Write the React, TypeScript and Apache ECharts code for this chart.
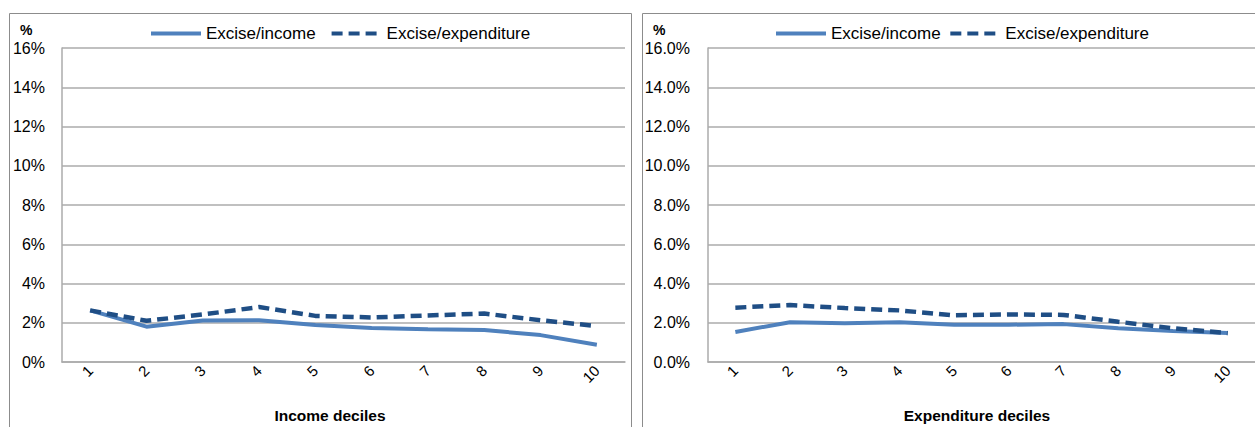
import React, { useEffect, useRef } from "react";
import * as echarts from "echarts";

const deciles = ["1", "2", "3", "4", "5", "6", "7", "8", "9", "10"];
const incomeExciseIncome = [2.63, 1.8, 2.12, 2.13, 1.88, 1.73, 1.67, 1.63, 1.37, 0.88];
const incomeExciseExpenditure = [2.63, 2.1, 2.42, 2.8, 2.35, 2.27, 2.37, 2.47, 2.13, 1.83];
const expExciseIncome = [1.53, 2.03, 1.98, 2.03, 1.9, 1.9, 1.93, 1.72, 1.58, 1.48];
const expExciseExpenditure = [2.77, 2.9, 2.75, 2.63, 2.38, 2.42, 2.4, 2.05, 1.72, 1.47];
const seriesNames = ["Excise/income", "Excise/expenditure"];
const axisTitles = ["Income deciles", "Expenditure deciles"];

const FONT = "'Liberation Sans', Arial, sans-serif";
const SOLID = "#4F81BD";
const DASH = "#1F4E85";
const GRID = "#ababab";

export default function App() {
  const ref = useRef<HTMLDivElement>(null);
  useEffect(() => {
    if (!ref.current) return;
    const chart = echarts.init(ref.current, undefined, { renderer: "svg" });
    const grids = [
      { left: 62, top: 48, width: 563, height: 314 },
      { left: 708, top: 48, width: 560, height: 314 },
    ];
    const yAxis = (i: number) => ({
      type: "value",
      gridIndex: i,
      min: 0,
      max: 16,
      interval: 2,
      axisLine: { show: true, lineStyle: { color: GRID, width: 1.5 } },
      axisTick: { show: false },
      splitLine: { show: true, lineStyle: { color: GRID, width: 1.5 } },
      axisLabel: {
        margin: i === 0 ? 17 : 18,
        color: "#000",
        fontFamily: FONT,
        fontSize: 16,
        formatter: (v: number) => (i === 0 ? `${v}%` : `${v.toFixed(1)}%`),
      },
    });
    const xAxis = (i: number) => ({
      type: "category",
      gridIndex: i,
      data: deciles,
      boundaryGap: true,
      axisLine: { show: true, lineStyle: { color: GRID, width: 1.5 } },
      axisTick: { show: false },
      axisLabel: {
        rotate: 45,
        margin: 6,
        color: "#000",
        fontFamily: FONT,
        fontSize: 15,
        interval: 0,
      },
    });
    const line = (name: string, data: number[], i: number, dashed: boolean) => ({
      type: "line",
      name,
      xAxisIndex: i,
      yAxisIndex: i,
      data,
      symbol: "none",
      showSymbol: false,
      lineStyle: dashed
        ? { color: DASH, width: 4.5, type: [11, 6] }
        : { color: SOLID, width: 4, type: "solid" },
      itemStyle: { color: dashed ? DASH : SOLID },
      z: dashed ? 3 : 2,
    });
    const legend = (left: number, gap: number, names: string[]) => ({
      show: true,
      left,
      top: 20,
      orient: "horizontal",
      itemWidth: 50,
      itemHeight: 18,
      itemGap: gap,
      data: names.map((n) => ({ name: n })),
      itemStyle: { color: "rgba(0,0,0,0)", borderWidth: 0, opacity: 0 },
      lineStyle: { width: 4 },
      textStyle: { fontFamily: FONT, fontSize: 17, color: "#000" },
    });
    chart.setOption({
      animation: false,
      backgroundColor: "#fff",
      grid: grids,
      xAxis: [xAxis(0), xAxis(1)],
      yAxis: [yAxis(0), yAxis(1)],
      legend: [
        legend(144, 14, seriesNames),
        legend(769, 3, seriesNames.map((n) => n + " ")),
      ],
      series: [
        line(seriesNames[0], incomeExciseIncome, 0, false),
        line(seriesNames[1], incomeExciseExpenditure, 0, true),
        line(seriesNames[0] + " ", expExciseIncome, 1, false),
        line(seriesNames[1] + " ", expExciseExpenditure, 1, true),
      ],
      graphic: [
        {
          type: "rect",
          shape: { x: 9.5, y: 13.5, width: 622, height: 440 },
          style: { fill: "none", stroke: "#8c8c8c", lineWidth: 1 },
          silent: true,
        },
        {
          type: "rect",
          shape: { x: 642.5, y: 13.5, width: 640, height: 440 },
          style: { fill: "none", stroke: "#8c8c8c", lineWidth: 1 },
          silent: true,
        },
        {
          type: "text",
          x: 20,
          y: 30,
          style: { text: "%", fontFamily: FONT, fontSize: 14, fontWeight: "bold", fill: "#000", verticalAlign: "middle" },
        },
        {
          type: "text",
          x: 653,
          y: 30,
          style: { text: "%", fontFamily: FONT, fontSize: 14, fontWeight: "bold", fill: "#000", verticalAlign: "middle" },
        },
        {
          type: "text",
          x: 330,
          y: 415,
          style: { text: axisTitles[0], fontFamily: FONT, fontSize: 15.5, fontWeight: "bold", fill: "#000", align: "center", verticalAlign: "middle" },
        },
        {
          type: "text",
          x: 977,
          y: 415,
          style: { text: axisTitles[1], fontFamily: FONT, fontSize: 15.5, fontWeight: "bold", fill: "#000", align: "center", verticalAlign: "middle" },
        },
      ],
    });
    return () => chart.dispose();
  }, []);
  return <div ref={ref} style={{ position: "fixed", left: 0, top: 0, width: 1255, height: 427 }} />;
}
